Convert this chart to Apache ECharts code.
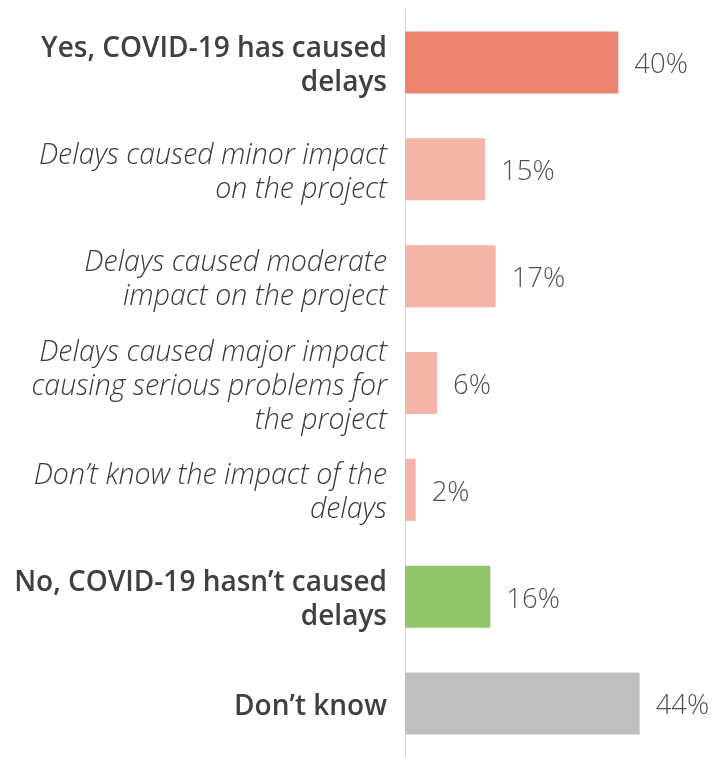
<!DOCTYPE html>
<html>
<head>
<meta charset="utf-8">
<script src="https://cdn.jsdelivr.net/npm/echarts@6/dist/echarts.min.js"></script>
<style>
  html, body { margin: 0; padding: 0; background: #fff; }
  #chart { width: 715px; height: 757px; }
</style>
</head>
<body>
<div id="chart"></div>
<script>
// Survey answers, top to bottom
const categories = [
  "Yes, COVID-19 has caused\ndelays",
  "Delays caused minor impact\non the project",
  "Delays caused moderate\nimpact on the project",
  "Delays caused major impact\ncausing serious problems for\nthe project",
  "Don’t know the impact of the\ndelays",
  "No, COVID-19 hasn’t caused\ndelays",
  "Don’t know"
];
// Share of respondents (%)
const values = [40, 15, 17, 6, 2, 16, 44];
// Headline answers are bold, sub-answers italic
const labelStyles = ["b", "i", "i", "i", "i", "b", "b"];
const barColors = ["#ED8470", "#F4B4A7", "#F4B4A7", "#F4B4A7", "#F4B4A7", "#92C46A", "#BFBFBF"];

const FONT = "'Open Sans', 'Noto Sans', sans-serif";

const chart = echarts.init(document.getElementById('chart'), null, { renderer: 'canvas' });

chart.setOption({
  animation: false,
  grid: { left: 405, top: 9, width: 266.67, height: 751, containLabel: false },
  xAxis: {
    type: 'value', min: 0, max: 50,
    show: false
  },
  yAxis: {
    type: 'category',
    data: categories,
    inverse: true,
    axisLine: { show: true, lineStyle: { color: '#D9D9D9', width: 1 } },
    axisTick: { show: false },
    axisLabel: {
      margin: 18,
      align: 'right',
      padding: [7, 0, 0, 0],
      formatter: function (val, idx) {
        const st = labelStyles[idx];
        return val.split('\n').map(l => '{' + st + '|' + l + '}').join('\n');
      },
      rich: {
        b: { fontFamily: FONT, fontSize: 28, fontWeight: 600, color: '#404040', lineHeight: 34 },
        i: { fontFamily: FONT, fontSize: 28.5, fontWeight: 300, fontStyle: 'italic', color: '#3a3a3a', lineHeight: 34 }
      }
    }
  },
  series: [{
    type: 'bar',
    data: values.map((v, i) => ({ value: v, itemStyle: { color: barColors[i] } })),
    barWidth: '58%',
    label: {
      show: true,
      position: 'right',
      distance: 16,
      offset: [0, 3],
      formatter: '{c}%',
      fontFamily: FONT,
      fontSize: 27.5,
      fontWeight: 300,
      color: '#505050'
    }
  }]
});
</script>
</body>
</html>
